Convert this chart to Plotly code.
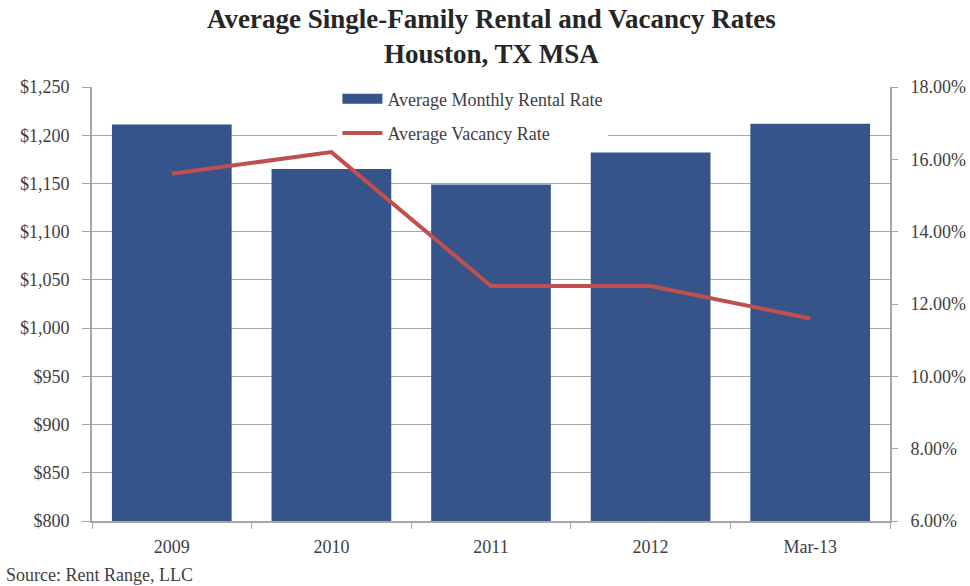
import plotly.graph_objects as go

# Houston, TX MSA single-family rental data
periods = ["2009", "2010", "2011", "2012", "Mar-13"]
avg_monthly_rent = [1211, 1165, 1149, 1182, 1212]          # USD
avg_vacancy_rate = [15.6, 16.2, 12.5, 12.5, 11.6]          # percent

rent_ticks = list(range(800, 1251, 50))
rent_labels = [f"${v:,}" for v in rent_ticks]
rate_ticks = [6, 8, 10, 12, 14, 16, 18]
rate_labels = [f"{v:.2f}%" for v in rate_ticks]

BLUE = "#34548A"
RED = "#C0504D"
AXIS = "#A6A6A6"
GRID = "#A6A6A6"
TEXT = "#404040"
SERIF = "Liberation Serif, Times New Roman, serif"
FS = 18

fig = go.Figure()

fig.add_trace(go.Bar(
    x=periods, y=avg_monthly_rent,
    marker=dict(color=BLUE, line=dict(width=0)),
    name="Average Monthly Rental Rate",
    showlegend=False,
    yaxis="y",
))

# legend swatch for the bars: a wide, flat block
fig.add_trace(go.Scatter(
    x=[None], y=[None], mode="lines",
    line=dict(color=BLUE, width=10),
    name="Average Monthly Rental Rate",
    legendgroup="rent",
    yaxis="y",
))

fig.add_trace(go.Scatter(
    x=periods, y=avg_vacancy_rate,
    mode="lines",
    line=dict(color=RED, width=4),
    name="Average Vacancy Rate",
    legendgroup="vacancy",
    yaxis="y2",
))

fig.update_layout(
    width=970, height=586,
    margin=dict(l=92, r=80, t=87, b=65, autoexpand=False),
    paper_bgcolor="white", plot_bgcolor="white",
    font=dict(family=SERIF, size=FS, color=TEXT),
    bargap=0.25,
    showlegend=True,
    legend=dict(
        x=0.3075, xanchor="left", y=1.015, yanchor="top",
        bgcolor="white", borderwidth=0,
        traceorder="grouped", tracegroupgap=8,
        font=dict(family=SERIF, size=FS, color=TEXT),
        itemwidth=40,
    ),
    xaxis=dict(
        type="category", automargin=False,
        showline=True, linecolor=AXIS, linewidth=2,
        ticks="outside", tickson="boundaries", ticklen=6, tickcolor=AXIS,
        showgrid=False,
        ticklabelstandoff=8,
        tickfont=dict(family=SERIF, size=FS, color=TEXT),
    ),
    yaxis=dict(
        range=[800, 1250], automargin=False,
        tickvals=rent_ticks, ticktext=rent_labels,
        showline=True, linecolor=AXIS, linewidth=2,
        ticks="outside", ticklen=8, tickcolor=AXIS,
        showgrid=True, gridcolor=GRID, gridwidth=1,
        zeroline=False,
        ticklabelstandoff=9,
        tickfont=dict(family=SERIF, size=FS, color=TEXT),
    ),
    yaxis2=dict(
        range=[6, 18], automargin=False,
        tickvals=rate_ticks, ticktext=rate_labels,
        overlaying="y", side="right",
        showline=True, linecolor=AXIS, linewidth=2,
        ticks="outside", ticklen=6, tickcolor=AXIS,
        showgrid=False, zeroline=False,
        ticklabelstandoff=9,
        tickfont=dict(family=SERIF, size=FS, color=TEXT),
    ),
)

# two-line chart title
fig.add_annotation(
    text="<b>Average Single-Family Rental and Vacancy Rates<br>Houston, TX MSA</b>",
    xref="paper", yref="paper", x=0.5, y=(521 - 37) / 434,
    xanchor="center", yanchor="middle", showarrow=False,
    font=dict(family=SERIF, size=27, color="#262626"),
)

fig.add_annotation(
    text="Source: Rent Range, LLC",
    xref="paper", yref="paper", x=-88 / 798, y=(521 - 575) / 434,
    xanchor="left", yanchor="middle", showarrow=False,
    font=dict(family=SERIF, size=FS, color=TEXT),
)

fig.write_html("out.html")
